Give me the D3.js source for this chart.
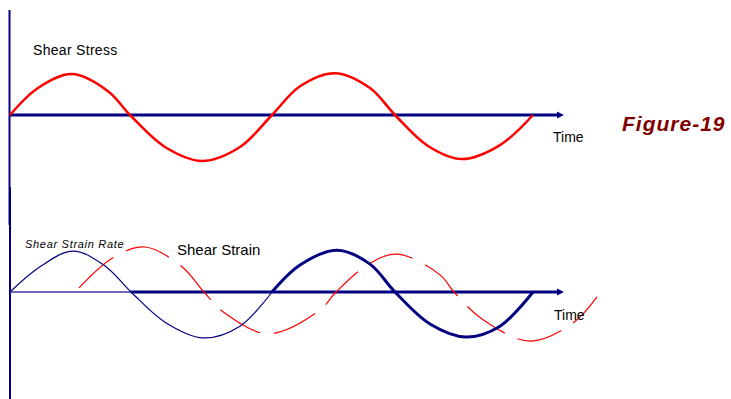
<!DOCTYPE html>
<html lang="en">
<head>
    <meta charset="UTF-8">
    <title>Figure-19</title>
    <script src="https://d3js.org/d3.v7.min.js"></script>
    <style>
        body { margin: 0; background: #fff; }
        text { font-family: "Liberation Sans", Arial, sans-serif; }
    </style>
</head>
<body>
<script type="text/javascript">
    // time (from origin) and amplitude
    var stressT = [0, 28, 62, 98, 120, 155, 192, 230, 262, 290, 325, 360, 385, 418, 452, 490, 523];
    var stressA = [0, 0.6, 0.91, 0.53, 0, -0.71, -1.02, -0.71, 0, 0.64, 0.93, 0.6, 0, -0.69, -0.98, -0.67, 0];

    var rateT = [0, 30, 63, 95, 121, 155, 193, 230, 262, 290, 327, 360, 385, 420, 456, 490, 523];
    var rateA = [0, 0.56, 0.91, 0.58, 0, -0.67, -1.02, -0.76, 0, 0.6, 0.93, 0.62, 0, -0.71, -1.0, -0.76, 0];
    var rateSplit = 262; // thin before, thick after

    var strainT = [69, 103, 135, 172, 194, 213, 258, 310, 326, 360, 388, 430, 444, 472, 520, 563, 587];
    var strainA = [0.09, 0.76, 1.0, 0.56, 0, -0.44, -0.93, -0.4, 0, 0.64, 0.84, 0.38, 0, -0.6, -1.09, -0.69, -0.11];

    var labels = {
        stress: "Shear Stress",
        rate: "Shear Strain Rate",
        strain: "Shear Strain",
        time: "Time",
        fig: "Figure-19"
    };

    var svgWidth = 731;
    var svgHeight = 399;
    var navy = "#000080";

    var svg = d3.select("body").append("svg")
        .attr("width", svgWidth)
        .attr("height", svgHeight);

    var xScale = d3.scaleLinear().domain([0, 555]).range([10, 565]);
    var yTop = d3.scaleLinear().domain([-1, 1]).range([160, 70]);
    var yBot = d3.scaleLinear().domain([-1, 1]).range([337, 247]);

    var zip = function (ts, as) {
        return ts.map(function (t, i) { return [t, as[i]]; });
    };

    var lineFactory = function (yScale) {
        return d3.line()
            .x(function (d) { return xScale(d[0]); })
            .y(function (d) { return yScale(d[1]); })
            .curve(d3.curveCatmullRom.alpha(0.5));
    };
    var topLine = lineFactory(yTop);
    var botLine = lineFactory(yBot);

    // vertical axes
    svg.append("line")
        .attr("x1", 9.5).attr("x2", 9.5)
        .attr("y1", 10).attr("y2", 225)
        .attr("stroke", navy).attr("stroke-width", 2);
    svg.append("line")
        .attr("x1", 10).attr("x2", 10)
        .attr("y1", 187).attr("y2", 399)
        .attr("stroke", navy).attr("stroke-width", 2);

    var arrow = function (x, y) {
        svg.append("path")
            .attr("d", "M" + (x - 7) + "," + (y - 3.5) + "L" + x + "," + y + "L" + (x - 7) + "," + (y + 3.5) + "Z")
            .attr("fill", navy);
    };

    // top baseline
    svg.append("line")
        .attr("x1", xScale(0)).attr("x2", 560)
        .attr("y1", yTop(0)).attr("y2", yTop(0))
        .attr("stroke", navy).attr("stroke-width", 3);
    arrow(564, yTop(0));

    // bottom baseline: thin then thick
    svg.append("line")
        .attr("x1", xScale(0)).attr("x2", 131)
        .attr("y1", yBot(0)).attr("y2", yBot(0))
        .attr("stroke", "#3a3aa0").attr("stroke-width", 1.5);
    svg.append("line")
        .attr("x1", 131).attr("x2", 560)
        .attr("y1", yBot(0)).attr("y2", yBot(0))
        .attr("stroke", navy).attr("stroke-width", 3);
    arrow(564, yBot(0));

    // shear stress
    svg.append("path")
        .datum(zip(stressT, stressA))
        .attr("d", topLine)
        .attr("fill", "none")
        .attr("stroke", "#ff0000")
        .attr("stroke-width", 2.5);

    // shear strain (dashed)
    svg.append("path")
        .datum(zip(strainT, strainA))
        .attr("d", botLine)
        .attr("fill", "none")
        .attr("stroke", "#ff0000")
        .attr("stroke-width", 1.2)
        .attr("stroke-dasharray", "46,14");

    // shear strain rate
    var rate = zip(rateT, rateA);
    svg.append("path")
        .datum(rate.filter(function (d) { return d[0] <= rateSplit; }))
        .attr("d", botLine)
        .attr("fill", "none")
        .attr("stroke", navy)
        .attr("stroke-width", 1.2);
    svg.append("path")
        .datum(rate.filter(function (d) { return d[0] >= rateSplit; }))
        .attr("d", botLine)
        .attr("fill", "none")
        .attr("stroke", navy)
        .attr("stroke-width", 3);

    // labels
    svg.append("text")
        .attr("x", 33).attr("y", 55)
        .attr("font-size", "14px")
        .attr("letter-spacing", "0.3px")
        .text(labels.stress);
    svg.append("text")
        .attr("x", 553).attr("y", 142)
        .attr("font-size", "14px")
        .text(labels.time);
    svg.append("text")
        .attr("x", 554).attr("y", 319.5)
        .attr("font-size", "14px")
        .text(labels.time);
    svg.append("text")
        .attr("x", 25).attr("y", 248)
        .attr("font-size", "11px")
        .attr("font-style", "italic")
        .attr("letter-spacing", "0.7px")
        .text(labels.rate);
    svg.append("text")
        .attr("x", 177).attr("y", 255)
        .attr("font-size", "15px")
        .text(labels.strain);
    svg.append("text")
        .attr("x", 622).attr("y", 131)
        .attr("font-size", "21px")
        .attr("font-weight", "bold")
        .attr("font-style", "italic")
        .attr("fill", "#800000")
        .attr("letter-spacing", "1px")
        .text(labels.fig);
</script>
</body>
</html>
